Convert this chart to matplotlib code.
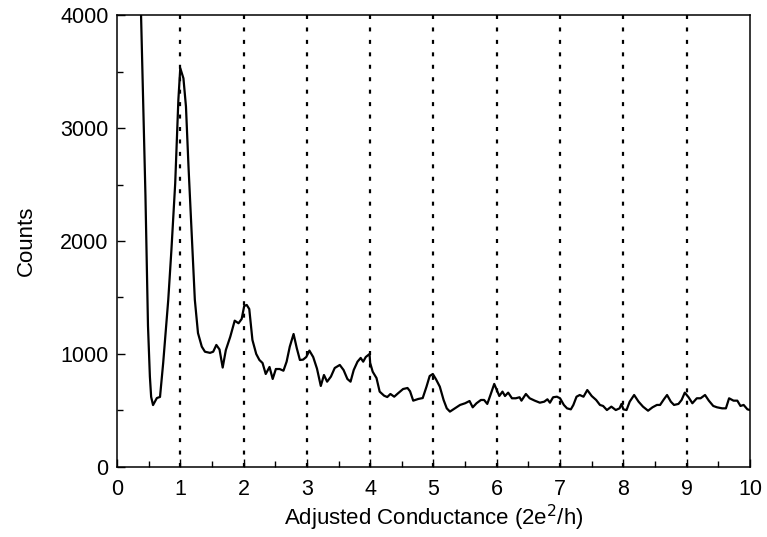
import matplotlib
matplotlib.use("Agg")
import matplotlib.pyplot as plt
from matplotlib.ticker import MultipleLocator

plt.rcParams['font.family'] = ['Liberation Sans', 'DejaVu Sans']

conductance = [0.35, 0.40, 0.45, 0.49, 0.52, 0.54, 0.57, 0.63, 0.68, 0.73, 0.81, 0.86, 0.92, 0.97,
               1.00, 1.05, 1.09, 1.13, 1.18, 1.23, 1.28, 1.34, 1.39, 1.47, 1.52, 1.57, 1.62, 1.67,
               1.72, 1.79, 1.86, 1.92, 1.97, 2.01, 2.05, 2.09, 2.14, 2.20, 2.25, 2.30, 2.35, 2.41,
               2.46, 2.51, 2.57, 2.63, 2.68, 2.73, 2.79, 2.84, 2.89, 2.94, 2.99, 3.04, 3.10, 3.16,
               3.22, 3.27, 3.32, 3.38, 3.44, 3.52, 3.58, 3.64, 3.69, 3.74, 3.80, 3.85, 3.89, 3.93,
               3.99, 4.00, 4.04, 4.10, 4.15, 4.22, 4.27, 4.32, 4.38, 4.44, 4.52, 4.59, 4.63, 4.68,
               4.76, 4.83, 4.89, 4.94, 4.99, 5.04, 5.10, 5.16, 5.21, 5.26, 5.34, 5.42, 5.50, 5.57,
               5.62, 5.68, 5.75, 5.80, 5.85, 5.90, 5.96, 6.00, 6.04, 6.09, 6.13, 6.18, 6.24, 6.30,
               6.36, 6.39, 6.46, 6.52, 6.60, 6.68, 6.75, 6.80, 6.84, 6.89, 6.95, 7.00, 7.06, 7.11,
               7.17, 7.21, 7.26, 7.31, 7.37, 7.43, 7.50, 7.57, 7.63, 7.68, 7.74, 7.81, 7.88, 7.94,
               7.97, 8.00, 8.05, 8.10, 8.17, 8.24, 8.31, 8.39, 8.46, 8.53, 8.58, 8.64, 8.69, 8.75,
               8.80, 8.87, 8.92, 8.97, 9.03, 9.09, 9.16, 9.22, 9.29, 9.35, 9.42, 9.48, 9.56, 9.62,
               9.67, 9.74, 9.80, 9.85, 9.90, 9.96, 10.00]
counts = [4700, 3550, 2400, 1250, 800, 620, 548, 610, 620, 920, 1478, 1920, 2510, 3250,
          3530, 3440, 3190, 2660, 2070, 1480, 1185, 1065, 1020, 1010, 1020, 1080, 1040, 880,
          1035, 1153, 1295, 1272, 1310, 1425, 1434, 1398, 1124, 1000, 947, 920, 823, 885,
          779, 867, 867, 852, 932, 1065, 1177, 1053, 947, 950, 973, 1030, 973, 870,
          717, 814, 755, 800, 876, 903, 858, 779, 755, 858, 932, 965, 932, 973,
          1000, 920, 843, 787, 667, 631, 619, 646, 622, 652, 690, 699, 670, 587,
          602, 610, 711, 805, 823, 776, 711, 593, 519, 490, 519, 549, 564, 584,
          528, 564, 593, 593, 558, 637, 735, 681, 628, 667, 628, 658, 608, 608,
          617, 587, 646, 608, 587, 569, 578, 599, 569, 617, 622, 608, 549, 519,
          510, 549, 622, 637, 622, 681, 628, 593, 549, 540, 504, 534, 504, 519,
          558, 510, 504, 578, 637, 578, 534, 498, 528, 549, 549, 599, 637, 578,
          549, 558, 593, 658, 617, 564, 608, 608, 637, 587, 540, 528, 519, 519,
          608, 587, 587, 540, 549, 510, 504]

quantum_steps = [1, 2, 3, 4, 5, 6, 7, 8, 9]

fig = plt.figure(figsize=(7.67, 5.37), dpi=100)
ax = fig.add_axes([0.1525, 0.1304, 0.8253, 0.8416])

for g in quantum_steps:
    ax.axvline(g, color='black', lw=1.6, linestyle=(0, (1.8, 3.8)), zorder=1)

ax.plot(conductance, counts, color='black', lw=1.6, zorder=2)

ax.set_xlim(0, 10)
ax.set_ylim(0, 4000)
ax.xaxis.set_major_locator(MultipleLocator(1))
ax.xaxis.set_minor_locator(MultipleLocator(0.5))
ax.yaxis.set_major_locator(MultipleLocator(1000))
ax.yaxis.set_minor_locator(MultipleLocator(500))
ax.tick_params(which='both', direction='in', top=False, right=False, labelsize=15.5, width=1)
ax.tick_params(which='major', length=6)
ax.tick_params(axis='x', which='major', pad=9)
ax.tick_params(axis='y', which='major', pad=6)
ax.tick_params(which='minor', length=4)
for s in ax.spines.values():
    s.set_linewidth(1.1)

ax.set_xlabel('Adjusted Conductance (2e$^2$/h)', fontsize=16, labelpad=2)
ax.set_ylabel('Counts', fontsize=16, labelpad=17)

fig.savefig('out.png', dpi=100)
